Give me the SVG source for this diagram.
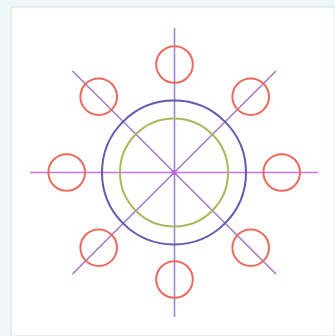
<svg xmlns="http://www.w3.org/2000/svg" width="335" height="336" viewBox="0 0 335 336">
<style>
.axis{stroke:#a47cc8;stroke-width:1.6;fill:none}
.h{stroke:#c078e0}
.v{stroke:#9c88d4}
.sat{fill:none;stroke:#ec6a5c;stroke-width:2}
</style>
<rect x="0" y="0" width="335" height="336" fill="#eef8f7"/>
<rect x="11" y="7" width="324" height="329" fill="#ffffff" stroke="#d4dede" stroke-width="1"/>
<g id="connectors">
<line class="axis v" x1="174.5" y1="28" x2="174.5" y2="317"/>
<line class="axis h" x1="30" y1="172.5" x2="318" y2="172.5"/>
<line class="axis" x1="72.5" y1="71" x2="276" y2="274"/>
<line class="axis" x1="276" y1="71" x2="72.5" y2="274"/>
</g>
<g id="outer-ring"><circle cx="174" cy="172.5" r="72" fill="none" stroke="#5c5cb0" stroke-width="2"/></g>
<g id="inner-ring"><circle cx="174" cy="172.5" r="54" fill="none" stroke="#a8b85e" stroke-width="2"/></g>
<g id="center"><circle cx="174" cy="172.5" r="2.5" fill="#c060e0"/></g>
<g id="sat-n"><circle class="sat" cx="174.5" cy="64.5" r="18.3"/></g>
<g id="sat-s"><circle class="sat" cx="174.5" cy="279.5" r="18.3"/></g>
<g id="sat-w"><circle class="sat" cx="66.7" cy="172.5" r="18.3"/></g>
<g id="sat-e"><circle class="sat" cx="281.7" cy="172.5" r="18.3"/></g>
<g id="sat-nw"><circle class="sat" cx="98.7" cy="96.7" r="18.3"/></g>
<g id="sat-ne"><circle class="sat" cx="250.7" cy="96.7" r="18.3"/></g>
<g id="sat-sw"><circle class="sat" cx="98.7" cy="247.7" r="18.3"/></g>
<g id="sat-se"><circle class="sat" cx="250.7" cy="247.7" r="18.3"/></g>
</svg>
